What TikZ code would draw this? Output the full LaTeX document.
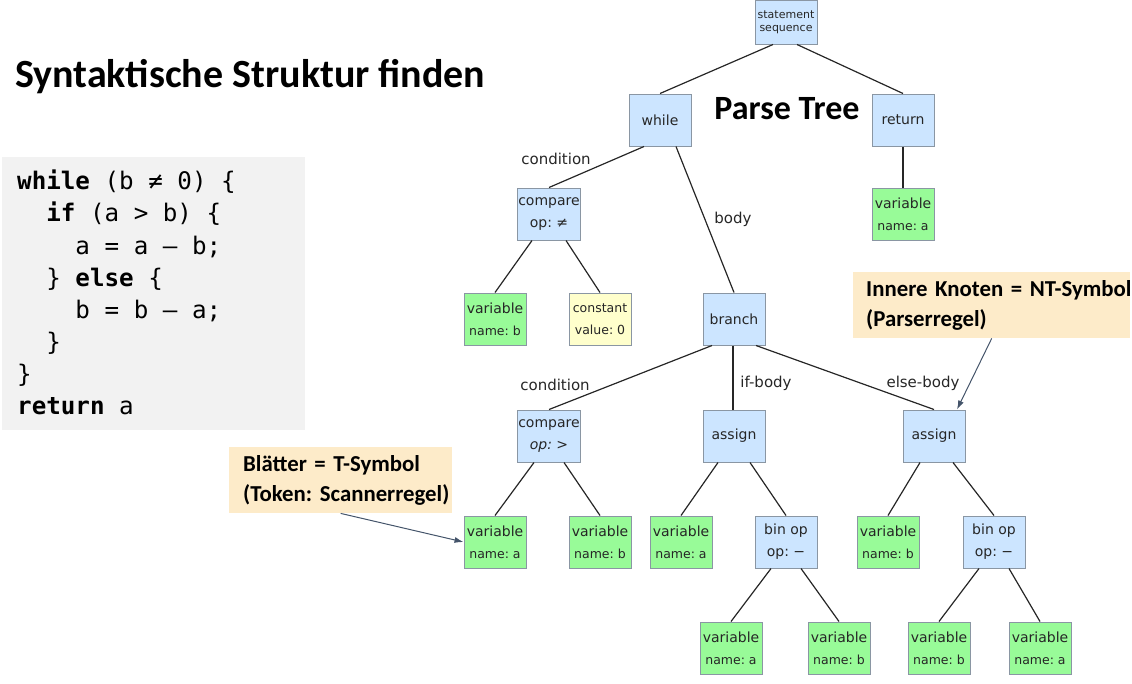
\documentclass[tikz,border=0pt]{standalone}
\usepackage{fontspec}
\setmainfont{DejaVu Sans}
\setmonofont{DejaVu Sans Mono}
\newfontfamily\calib{Carlito}
\usetikzlibrary{positioning, arrows.meta}
\definecolor{nodeblue}{HTML}{CCE5FF}
\definecolor{leafgreen}{HTML}{98FB98}
\definecolor{constyellow}{HTML}{FFFFCC}
\definecolor{nodeborder}{HTML}{8A96A3}
\definecolor{codegray}{HTML}{F2F2F2}
\definecolor{notefill}{HTML}{FDEBC9}
\definecolor{notearrow}{HTML}{44546A}
\frenchspacing
\tikzstyle{tnode} = [draw=nodeborder, line width=1pt, rectangle, minimum width=62pt, minimum height=52pt, inner sep=1pt, align=center, text=black!85, font=\fontsize{14}{22}\selectfont]
\tikzstyle{inner} = [tnode, fill=nodeblue]
\tikzstyle{leaf} = [tnode, fill=leafgreen]
\tikzstyle{const} = [tnode, fill=constyellow]
\tikzstyle{edge} = [line width=1.2pt, black!85]
\tikzstyle{elabel} = [font=\fontsize{15}{18}\selectfont, text=black!85]
\tikzstyle{note} = [fill=notefill, inner xsep=14pt, inner ysep=0pt, align=left, minimum height=66pt, anchor=north west, font=\calib\bfseries\fontsize{22.8}{30}\selectfont]
\tikzstyle{notearr} = [-{Latex[length=9pt,width=6pt]}, notearrow, line width=1pt]
\newcommand{\nm}[1]{{\fontsize{12.5}{22}\selectfont #1}}

\begin{document}
\begin{tikzpicture}[x=1pt, y=-1pt]
  \useasboundingbox (0,0) rectangle (1132,683);

  % title and source code
  \node[anchor=base west, inner sep=0pt, font=\calib\bfseries\fontsize{40}{44}\selectfont] (title) at (15,87) {Syntaktische Struktur finden};
  \node[font=\calib\bfseries\fontsize{34}{36}\selectfont] (ptitle) at (787,109) {Parse Tree};
  \node[fill=codegray, minimum width=303pt, minimum height=273pt, anchor=north west] (codebox) at (2,157) {};
  \node[anchor=north west, align=left, inner sep=0pt, font=\ttfamily\fontsize{24.2}{32.1}\selectfont] (code) at (17,170) {%
    \textbf{while} (b ≠ 0) \{\\
    \phantom{xx}\textbf{if} (a > b) \{\\
    \phantom{xxxx}a = a – b;\\
    \phantom{xx}\} \textbf{else} \{\\
    \phantom{xxxx}b = b – a;\\
    \phantom{xx}\}\\
    \}\\
    \textbf{return} a};

  % tree nodes
  \node[inner, font=\fontsize{11}{13}\selectfont, minimum height=44pt] (seq) at (786,22) {statement\\sequence};
  \node[inner] (while) at (660,120) {while};
  \node[inner] (ret) at (903,120) {return};
  \node[inner] (cmpne) at (549,214) {compare\\op: ≠};
  \node[leaf] (reta) at (903,214) {variable\\\nm{name: a}};
  \node[leaf] (varb) at (495,319) {variable\\\nm{name: b}};
  \node[const] (zero) at (600,319) {\nm{constant}\\\nm{value: 0}};
  \node[inner] (branch) at (734,319) {branch};
  \node[inner] (cmpgt) at (549,436) {compare\\\textit{op:} >};
  \node[inner] (asgif) at (734,436) {assign};
  \node[inner] (asgelse) at (934,436) {assign};
  \node[leaf] (gta) at (495,542) {variable\\\nm{name: a}};
  \node[leaf] (gtb) at (600,542) {variable\\\nm{name: b}};
  \node[leaf] (ifa) at (681,542) {variable\\\nm{name: a}};
  \node[inner] (ifop) at (786,542) {bin op\\op: −};
  \node[leaf] (elseb) at (888,542) {variable\\\nm{name: b}};
  \node[inner] (elseop) at (994,542) {bin op\\op: −};
  \node[leaf] (ifopa) at (731,648) {variable\\\nm{name: a}};
  \node[leaf] (ifopb) at (839,648) {variable\\\nm{name: b}};
  \node[leaf] (elseopb) at (939,648) {variable\\\nm{name: b}};
  \node[leaf] (elseopa) at (1040,648) {variable\\\nm{name: a}};

  % edges
  \draw[edge] ([xshift=-13pt]seq.south) -- (while.north);
  \draw[edge] ([xshift=11pt]seq.south) -- (ret.north);
  \draw[edge] ([xshift=-16pt]while.south) -- (cmpne.north);
  \draw[edge] ([xshift=16pt]while.south) -- (branch.north);
  \draw[edge] (ret.south) -- (reta.north);
  \draw[edge] ([xshift=-17pt]cmpne.south) -- (varb.north);
  \draw[edge] ([xshift=17pt]cmpne.south) -- (zero.north);
  \draw[edge] ([xshift=-22pt]branch.south) -- (cmpgt.north);
  \draw[edge] ([xshift=-1pt]branch.south) -- ([xshift=-1pt]asgif.north);
  \draw[edge] ([xshift=22pt]branch.south) -- (asgelse.north);
  \draw[edge] ([xshift=-15pt]cmpgt.south) -- (gta.north);
  \draw[edge] ([xshift=15pt]cmpgt.south) -- (gtb.north);
  \draw[edge] ([xshift=-16pt]asgif.south) -- (ifa.north);
  \draw[edge] ([xshift=16pt]asgif.south) -- (ifop.north);
  \draw[edge] ([xshift=-14pt]asgelse.south) -- (elseb.north);
  \draw[edge] ([xshift=19pt]asgelse.south) -- (elseop.north);
  \draw[edge] ([xshift=-15pt]ifop.south) -- (ifopa.north);
  \draw[edge] ([xshift=15pt]ifop.south) -- (ifopb.north);
  \draw[edge] ([xshift=-15pt]elseop.south) -- (elseopb.north);
  \draw[edge] ([xshift=15pt]elseop.south) -- (elseopa.north);

  % edge labels
  \node[elabel] (lcond) at (556,159) {condition};
  \node[elabel] (lbody) at (733,219) {body};
  \node[elabel] (lcond2) at (555,385) {condition};
  \node[elabel] (lifb) at (766,383) {if-body};
  \node[elabel] (lelseb) at (923,383) {else-body};

  % notes
  \node[note, text width=195pt] (leafnote) at (229,447) {\mbox{Blätter = T-Symbol}\\\mbox{(Token: Scannerregel)}};
  \node[note, text width=251pt, inner xsep=13pt] (innernote) at (853,272) {\mbox{Innere Knoten = NT-Symbol}\\\mbox{(Parserregel)}};
  \draw[notearr] (leafnote.south) -- (gta.west);
  \draw[notearr] (innernote.south) -- ([xshift=23pt]asgelse.north);
\end{tikzpicture}
\end{document}
